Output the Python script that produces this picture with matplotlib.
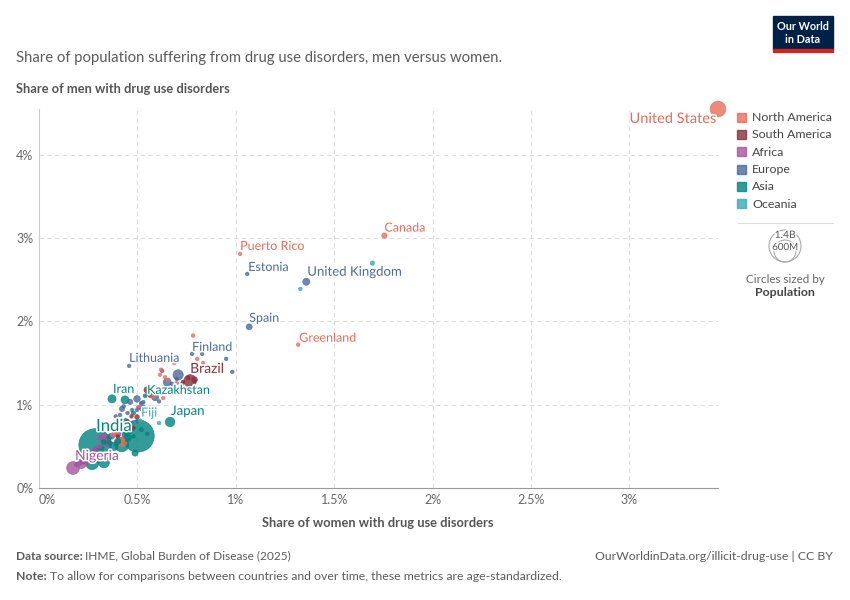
import matplotlib
matplotlib.use("Agg")
import matplotlib.pyplot as plt
import matplotlib.patheffects as pe
from matplotlib.patches import Rectangle, Ellipse
from matplotlib.lines import Line2D
import numpy as np

plt.rcParams['font.family'] = ['Lato', 'DejaVu Sans']

# ---------------- DATA ----------------
regions_order = ["North America", "South America", "Africa", "Europe", "Asia", "Oceania"]
region_colors = ["#E56E5A", "#883039", "#A2559C", "#4C6A9C", "#00847E", "#38AABA"]

na_names = ["United States", "Canada", "Puerto Rico", "Greenland", "Mexico", "Bahamas", "Bermuda",
            "Cuba", "Dominican Republic", "Jamaica", "Costa Rica", "Panama", "Guatemala", "Honduras",
            "El Salvador", "Nicaragua", "Haiti", "Trinidad and Tobago", "Belize", "Barbados"]
na_pop = [340, 39, 3.2, 0.06, 130, 0.4, 0.06, 11, 11, 2.8, 5, 4.4, 18, 10, 6, 7, 11, 1.5, 0.4, 0.3]
na_women = [3.45, 1.755, 1.022, 1.317, 0.422, 0.783, 0.804, 0.834, 0.687, 0.615, 0.656, 0.70, 0.60,
            0.631, 0.58, 0.371, 0.386, 0.427, 0.62, 0.64]
na_men = [4.55, 3.03, 2.81, 1.72, 0.553, 1.83, 1.55, 1.50, 1.50, 1.36, 1.30, 1.26, 1.14, 1.08, 1.10,
          0.637, 0.66, 0.58, 1.42, 1.33]

sa_names = ["Brazil", "Argentina", "Chile", "Uruguay", "Colombia", "Peru", "Venezuela", "Ecuador",
            "Bolivia", "Paraguay", "Guyana", "Suriname"]
sa_pop = [215, 46, 20, 3.4, 52, 34, 28, 18, 12, 7, 0.8, 0.6]
sa_women = [0.768, 0.79, 0.758, 0.732, 0.549, 0.565, 0.498, 0.48, 0.40, 0.52, 0.45, 0.47]
sa_men = [1.286, 1.30, 1.32, 1.274, 1.178, 1.118, 0.853, 0.72, 0.62, 0.95, 0.80, 0.86]

af_names = ["Nigeria", "Ethiopia", "Egypt", "DR Congo", "Tanzania", "Kenya", "Uganda", "Sudan",
            "Algeria", "Morocco", "Angola", "Ghana", "Mozambique", "Madagascar", "Cameroon",
            "Cote d'Ivoire", "Niger", "Mali", "Burkina Faso", "Libya", "Tunisia", "Zambia", "Senegal",
            "South Africa", "Seychelles", "Mauritius"]
af_pop = [225, 125, 112, 100, 65, 55, 48, 48, 45, 37, 36, 34, 33, 30, 28, 28, 26, 22, 22, 7, 12, 20, 18,
          60, 0.1, 1.3]
af_women = [0.173, 0.215, 0.326, 0.245, 0.30, 0.28, 0.26, 0.35, 0.37, 0.34, 0.27, 0.23, 0.25, 0.26, 0.29,
            0.27, 0.19, 0.21, 0.22, 0.45, 0.38, 0.31, 0.28, 0.40, 0.505, 0.52]
af_men = [0.24, 0.29, 0.60, 0.33, 0.47, 0.42, 0.40, 0.53, 0.62, 0.57, 0.37, 0.32, 0.35, 0.34, 0.44,
          0.41, 0.28, 0.30, 0.31, 0.78, 0.68, 0.50, 0.46, 0.65, 0.97, 1.00]

eu_names = ["United Kingdom", "Estonia", "Spain", "Finland", "Norway", "Denmark", "Ireland", "Lithuania",
            "Russia", "Latvia", "Germany", "Netherlands", "Belgium", "Sweden", "France", "Italy",
            "Ukraine", "Poland", "Portugal", "Czechia", "Austria", "Switzerland", "Belarus", "Romania",
            "Hungary", "Greece", "Serbia", "Luxembourg", "Iceland", "Bulgaria", "Croatia", "Slovakia"]
eu_pop = [68, 1.3, 48, 5.6, 5.5, 5.9, 5.1, 2.8, 144, 1.9, 84, 18, 11.7, 10.5, 68, 59, 38, 38, 10, 10.5,
          9, 8.8, 9.2, 19, 9.6, 10, 6.7, 0.65, 0.4, 6.4, 3.9, 5.4]
eu_women = [1.358, 1.058, 1.068, 0.778, 0.829, 0.951, 0.982, 0.458, 0.707, 0.626, 0.651, 0.676, 0.727,
            0.70, 0.59, 0.498, 0.463, 0.422, 0.412, 0.473, 0.498, 0.61, 0.55, 0.44, 0.50, 0.47, 0.43,
            0.85, 0.80, 0.39, 0.53, 0.45]
eu_men = [2.476, 2.57, 1.935, 1.61, 1.61, 1.55, 1.394, 1.466, 1.358, 1.406, 1.27, 1.25, 1.25, 1.31,
          1.09, 1.07, 1.034, 0.95, 0.877, 0.937, 0.937, 1.04, 1.15, 0.70, 0.80, 0.78, 0.98, 1.45, 1.40,
          0.86, 1.03, 0.90]

as_names = ["India", "China", "Iran", "Turkey", "Japan", "Kazakhstan", "Pakistan", "Bangladesh",
            "Indonesia", "Philippines", "Vietnam", "Thailand", "Myanmar", "South Korea", "Afghanistan",
            "Iraq", "Saudi Arabia", "Uzbekistan", "Malaysia", "Nepal", "Sri Lanka", "Taiwan", "Syria",
            "Israel", "United Arab Emirates", "Jordan", "Kyrgyzstan", "Mongolia", "Cambodia", "Yemen"]
as_pop = [1440, 1410, 90, 86, 124, 20, 240, 173, 280, 115, 100, 72, 54, 52, 42, 45, 36, 36, 35, 30, 22,
          23, 23, 9.7, 10, 11, 7, 3.4, 17, 34]
as_women = [0.285, 0.504, 0.371, 0.437, 0.666, 0.539, 0.27, 0.33, 0.42, 0.30, 0.38, 0.45, 0.40, 0.488,
            0.35, 0.44, 0.46, 0.36, 0.33, 0.30, 0.32, 0.52, 0.48, 0.52, 0.48, 0.44, 0.42, 0.55, 0.30, 0.36]
as_men = [0.517, 0.625, 1.07, 1.058, 0.793, 1.106, 0.30, 0.31, 0.52, 0.36, 0.50, 0.60, 0.56, 0.42,
          0.58, 0.80, 0.68, 0.62, 0.55, 0.45, 0.48, 0.70, 0.90, 1.02, 0.62, 0.66, 0.70, 0.65, 0.40, 0.54]

oc_names = ["Australia", "New Zealand", "Fiji", "Papua New Guinea", "Samoa"]
oc_pop = [26, 5, 0.9, 10, 0.2]
oc_women = [1.694, 1.328, 0.514, 0.61, 0.53]
oc_men = [2.70, 2.39, 0.81, 0.78, 0.98]

x_ticks = [0, 0.5, 1, 1.5, 2, 2.5, 3]
x_tick_labels = ["0%", "0.5%", "1%", "1.5%", "2%", "2.5%", "3%"]
y_ticks = [0, 1, 2, 3, 4]
y_tick_labels = ["0%", "1%", "2%", "3%", "4%"]

labeled = ["United States", "Canada", "Puerto Rico", "Estonia", "United Kingdom", "Spain", "Greenland",
           "Finland", "Lithuania", "Brazil", "Kazakhstan", "Iran", "Fiji", "Japan", "India", "Nigeria"]

# ---------------- BUILD ----------------
groups = [(na_names, na_pop, na_women, na_men), (sa_names, sa_pop, sa_women, sa_men),
          (af_names, af_pop, af_women, af_men), (eu_names, eu_pop, eu_women, eu_men),
          (as_names, as_pop, as_women, as_men), (oc_names, oc_pop, oc_women, oc_men)]
names, pops, xs, ys, cols = [], [], [], [], []
for gi, (n, p, w, m) in enumerate(groups):
    names += n; pops += p; xs += w; ys += m; cols += [region_colors[gi]] * len(n)
pops = np.array(pops, float); xs = np.array(xs); ys = np.array(ys)

W, H = 850, 600
fig = plt.figure(figsize=(8.5, 6), dpi=100)
fig.patch.set_facecolor("white")

def fx(x): return x / W
def fy(y): return 1 - y / H

ax = fig.add_axes([fx(39), fy(488), fx(718) - fx(39), fy(109) - fy(488)])
ax.set_xlim(0, 3.45)
ax.set_ylim(0, 4.55)

def radius_px(p):
    return np.maximum(1.8, 16 * np.sqrt(p / 1400.0))

r = radius_px(pops)
sizes = (2 * r * 0.72) ** 2
order = np.argsort(-pops)
ax.scatter(xs[order], ys[order], s=sizes[order], c=[cols[i] for i in order], alpha=0.8,
           edgecolors=[cols[i] for i in order], linewidths=0.5, clip_on=False, zorder=3)

# grid
for xv in x_ticks[1:]:
    ax.axvline(xv, color="#dddddd", lw=0.8, ls=(0, (4, 3)), zorder=1)
for yv in y_ticks[1:]:
    ax.axhline(yv, color="#dddddd", lw=0.8, ls=(0, (4, 3)), zorder=1)

for s in ["top", "right"]:
    ax.spines[s].set_visible(False)
ax.spines["left"].set_color("#cccccc")
ax.spines["left"].set_linewidth(0.8)
ax.spines["bottom"].set_color("#999999")
ax.spines["bottom"].set_linewidth(0.8)
ax.set_xticks(x_ticks)
ax.set_xticklabels(x_tick_labels)
ax.set_yticks(y_ticks)
ax.set_yticklabels(y_tick_labels)
ax.tick_params(length=0, colors="#666666", labelsize=9)
ax.tick_params(axis="x", pad=4)
ax.tick_params(axis="y", pad=4)
ax.get_xticklabels()[0].set_horizontalalignment("left")

# point labels: (dx px, dy px up, fontsize, ha)
label_style = {
    "United States": (-1, -10, 10.5, "right"),
    "Canada": (0, 8, 9, "left"),
    "Puerto Rico": (0, 8, 9, "left"),
    "Estonia": (1, 7, 9, "left"),
    "United Kingdom": (1, 10, 9.5, "left"),
    "Spain": (0, 9, 9, "left"),
    "Greenland": (1, 7, 9, "left"),
    "Finland": (0, 7, 9, "left"),
    "Lithuania": (0, 8, 9, "left"),
    "Brazil": (0, 12, 10, "left"),
    "Kazakhstan": (2, 6, 9, "left"),
    "Iran": (1, 10, 9, "left"),
    "Fiji": (1, 8, 9, "left"),
    "Japan": (1, 11, 9.5, "left"),
    "India": (1, 19, 12, "left"),
    "Nigeria": (2, 12, 10, "left"),
}
for nm in labeled:
    i = names.index(nm)
    dx, dy, fs, ha = label_style[nm]
    t = ax.annotate(nm, (xs[i], ys[i]), xytext=(dx * 0.72, dy * 0.72), textcoords="offset points",
                    ha=ha, va="center", fontsize=fs, color=cols[i], zorder=5, annotation_clip=False)
    t.set_path_effects([pe.withStroke(linewidth=2.2, foreground="white")])

# ---------------- TEXTS ----------------
fig.text(fx(16), fy(58), "Share of population suffering from drug use disorders, men versus women.",
         fontsize=10.7, color="#5b5b5b", va="center", ha="left")
fig.text(fx(16), fy(89), "Share of men with drug use disorders", fontsize=9.3, color="#555555",
         va="center", ha="left", fontweight="bold")
fig.text(fx(378), fy(523), "Share of women with drug use disorders", fontsize=9.3, color="#555555",
         va="center", ha="center", fontweight="bold")

t1 = fig.text(fx(16), fy(556), "Data source:", fontsize=8.6, color="#5b5b5b", va="center", ha="left",
              fontweight="bold")
fig.canvas.draw()
bb = t1.get_window_extent()
fig.text(bb.x1 / W + 2 / W, fy(556), "IHME, Global Burden of Disease (2025)", fontsize=8.6,
         color="#5b5b5b", va="center", ha="left")
t2 = fig.text(fx(16), fy(577), "Note:", fontsize=8.8, color="#5b5b5b", va="center", ha="left",
              fontweight="bold")
fig.canvas.draw()
bb = t2.get_window_extent()
fig.text(bb.x1 / W + 3 / W, fy(577),
         "To allow for comparisons between countries and over time, these metrics are age-standardized.",
         fontsize=8.8, color="#5b5b5b", va="center", ha="left")
fig.text(fx(833), fy(556), "OurWorldinData.org/illicit-drug-use | CC BY", fontsize=8.8,
         color="#5b5b5b", va="center", ha="right")

# logo
fig.patches.append(Rectangle((fx(773), fy(49)), fx(833) - fx(773), fy(16) - fy(49),
                             transform=fig.transFigure, color="#002147", zorder=5))
fig.patches.append(Rectangle((fx(773), fy(52)), fx(833) - fx(773), fy(49) - fy(52),
                             transform=fig.transFigure, color="#CE261E", zorder=5))
fig.text(fx(803), fy(26.5), "Our World", fontsize=7.8, color="white", ha="center", va="center",
         zorder=6, fontweight="bold")
fig.text(fx(803), fy(39.5), "in Data", fontsize=7.8, color="white", ha="center", va="center",
         zorder=6, fontweight="bold")

# legend
leg_y = [117, 134, 152, 169, 186, 204]
for name, col, yy in zip(regions_order, region_colors, leg_y):
    fig.patches.append(Rectangle((fx(737), fy(yy + 4.5)), 9 / W, 9 / H, transform=fig.transFigure,
                                 color=col, alpha=0.8))
    fig.text(fx(752), fy(yy), name, fontsize=8.9, color="#444444", ha="left", va="center")

fig.add_artist(Line2D([fx(738), fx(833)], [fy(223), fy(223)], color="#dddddd", lw=0.8,
                      transform=fig.transFigure))

# size legend
cx, cb = 785, 262
for rr in [16, 11]:
    fig.patches.append(Ellipse((fx(cx), fy(cb - rr)), 2 * rr / W, 2 * rr / H, transform=fig.transFigure,
                               fill=False, ec="#aaaaaa", lw=0.8))
fig.text(fx(cx), fy(235.5), "1.4B", fontsize=7.4, color="#555555", ha="center", va="center",
         path_effects=[pe.withStroke(linewidth=2, foreground="white")])
fig.text(fx(cx), fy(247.5), "600M", fontsize=7.0, color="#555555", ha="center", va="center",
         path_effects=[pe.withStroke(linewidth=2, foreground="white")])
fig.text(fx(cx), fy(279), "Circles sized by", fontsize=8.4, color="#666666", ha="center", va="center")
fig.text(fx(cx), fy(293), "Population", fontsize=8.9, color="#444444", ha="center", va="center",
         fontweight="bold")

fig.savefig("out.png", dpi=100)
